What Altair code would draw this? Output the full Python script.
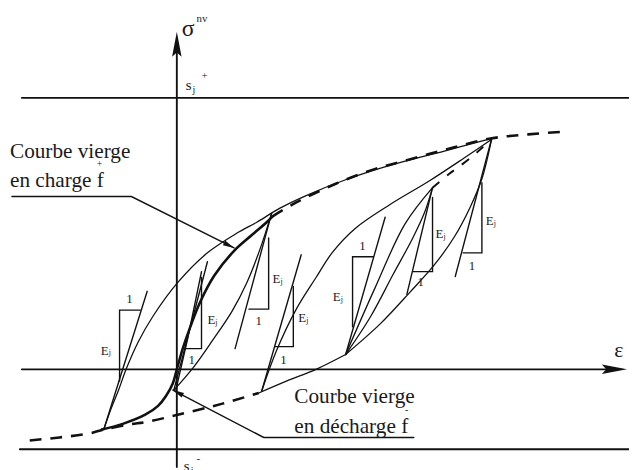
import math
import altair as alt
import pandas as pd

# ---- schematic geometry (reference pixel coordinates) ----
# frame lines
axis_v_x = [179, 179]; axis_v_y = [40, 470]
line_top_x = [22, 637]; line_top_y = [96, 96]
axis_e_x = [22, 622]; axis_e_y = [371, 371]
line_bot_x = [20, 637]; line_bot_y = [452, 452]

# thin curves
outer_x = [105, 112, 120, 128, 140, 155, 180, 210, 240, 260, 283, 310, 350, 400, 450, 498]
outer_y = [432, 412, 392, 370, 343, 317, 283, 253, 233, 222, 208, 195, 179, 163, 150, 137]
q2peak_x = [176, 195, 215, 235, 250, 263, 275]
q2peak_y = [392, 370, 342, 312, 283, 250, 213]
lowbr_x = [262, 290, 320, 350]
lowbr_y = [395, 383, 371, 356]
curvec_x = [265, 280, 300, 320, 337, 360, 395, 435, 470, 498]
curvec_y = [393, 352, 310, 278, 252, 228, 204, 180, 157, 138]
q4p_x = [350, 385, 415, 440, 460, 476, 488, 498]
q4p_y = [356, 325, 293, 265, 237, 207, 178, 137]
q4a_x = [350, 380, 410, 438]
q4a_y = [356, 288, 224, 187]
q4b_x = [350, 375, 398, 418, 430, 438]
q4b_y = [356, 318, 275, 238, 212, 187]

# straight slope lines
s1_x = [105, 149]; s1_y = [432, 292]
s2_x = [176, 210]; s2_y = [392, 262]
s2b_x = [178, 190, 204]; s2b_y = [392, 340, 272]
s3_x = [275, 238]; s3_y = [213, 350]
s4_x = [265, 305]; s4_y = [393, 255]
s5_x = [350, 390]; s5_y = [356, 217]
s6_x = [412, 438]; s6_y = [295, 187]
s7_x = [498, 461]; s7_y = [137, 277]

# triangles (two legs each)
tri_x = [[142, 121, 121], [187, 204, 204], [252, 272, 272], [278, 297, 297],
         [378, 357, 357], [418, 438, 438], [469, 488, 488]]
tri_y = [[311, 311, 383], [350, 350, 278], [310, 310, 238], [348, 348, 287],
         [257, 257, 328], [272, 272, 197], [253, 253, 182]]

# thick virgin loading curve
virg_x = [103, 125, 147, 160, 168, 175, 179, 185, 193, 203, 217, 237, 255, 270, 276]
virg_y = [432, 426, 417, 408, 398, 385, 371, 350, 327, 302, 276, 251, 235, 222, 216]
virgd_x = [276, 300, 340, 380, 420, 460, 498, 535, 575]
virgd_y = [216, 202, 183, 168, 157, 146, 137, 133, 130]
lowd_x = [30, 60, 90, 105, 130, 150, 180, 213, 235, 262]
lowd_y = [443, 440, 436, 432, 427, 424, 417, 409, 403, 395]
p3d_x = [438, 455, 475, 498]
p3d_y = [187, 173, 158, 138]

# leader lines
lead1_x = [12, 133, 237]; lead1_y = [196, 196, 248]
lead2_x = [419, 267, 175]; lead2_y = [440, 440, 392]

# texts
txt_left = [
    ("σ", 184, 33, 24), ("nv", 199, 19, 11),
    ("s", 188, 88, 15), ("j", 195, 91, 10), ("+", 204, 77, 11),
    ("s", 186, 474, 15), ("j", 193, 477, 10), ("-", 199, 465, 11),
    ("ε", 622, 359, 22),
    ("Courbe vierge", 10, 157, 21.5), ("en charge f", 10, 186, 21.5), ("+", 98, 166, 10),
    ("Courbe vierge", 298, 405, 21.5), ("en décharge f", 298, 435, 21.5), ("-", 410, 415, 10),
]
ej_x = [102, 210, 276, 302, 337, 441, 492]
ej_y = [356, 325, 284, 323, 302, 238, 225]
one_x = [131, 194, 262, 287, 367, 426, 478]
one_y = [304, 366, 326, 366, 250, 287, 270]

FONT = "Liberation Serif, Times New Roman, DejaVu Serif, serif"

# ---- build tables ----
def paths(groups):
    rows = []
    for gid, (xs, ys) in enumerate(groups):
        for i, (a, b) in enumerate(zip(xs, ys)):
            rows.append({"id": gid, "o": i, "x": a, "y": b})
    return pd.DataFrame(rows)

X = alt.Scale(domain=[8, 637])
Y = alt.Scale(domain=[8, 470], reverse=True)

def line_layer(df, width, interp="linear", dash=None, color="#111"):
    kw = dict(strokeWidth=width, color=color, interpolate=interp, strokeCap="round")
    if dash:
        kw["strokeDash"] = dash
        kw["strokeCap"] = "butt"
    return alt.Chart(df).mark_line(**kw).encode(
        x=alt.X("x:Q", scale=X, axis=None),
        y=alt.Y("y:Q", scale=Y, axis=None),
        detail="id:N",
        order="o:Q",
    )

frame = paths([(axis_v_x, axis_v_y), (line_top_x, line_top_y), (axis_e_x, axis_e_y),
               (line_bot_x, line_bot_y)])
thin_curves = paths([(outer_x, outer_y), (q2peak_x, q2peak_y), (lowbr_x, lowbr_y),
                     (curvec_x, curvec_y), (q4p_x, q4p_y), (q4a_x, q4a_y), (q4b_x, q4b_y)])
straight = paths([(s1_x, s1_y), (s2_x, s2_y), (s2b_x, s2b_y), (s3_x, s3_y), (s4_x, s4_y),
                  (s5_x, s5_y), (s6_x, s6_y), (s7_x, s7_y)]
                 + list(zip(tri_x, tri_y)) + [(lead1_x, lead1_y), (lead2_x, lead2_y)])
thick = paths([(virg_x, virg_y)])
thickd = paths([(virgd_x, virgd_y), (lowd_x, lowd_y)])
p3d = paths([(p3d_x, p3d_y)])

# arrow heads
ARROW = "M0,-1L0.32,0.7L0,0.4L-0.32,0.7Z"
TRI = "M0,-1L0.42,0.8L-0.42,0.8Z"
def head(tip, frm, size):
    dx, dy = tip[0] - frm[0], tip[1] - frm[1]
    n = math.hypot(dx, dy)
    ux, uy = dx / n, dy / n
    r = math.sqrt(size) / 2
    ang = math.degrees(math.atan2(ux, -uy)) % 360
    return {"x": tip[0] - ux * r, "y": tip[1] - uy * r, "a": ang, "s": size}

heads_big = pd.DataFrame([
    head((179, 29), (179, 100), 900),
    head((635, 371), (500, 371), 900),
])
heads_small = pd.DataFrame([
    head((lead1_x[-1], lead1_y[-1]), (lead1_x[-2], lead1_y[-2]), 160),
    head((lead2_x[-1], lead2_y[-1]), (lead2_x[-2], lead2_y[-2]), 160),
])

def head_layer(df, shape):
    return alt.Chart(df).mark_point(shape=shape, filled=True, color="#111", opacity=1,
                                    strokeWidth=0).encode(
        x=alt.X("x:Q", scale=X, axis=None),
        y=alt.Y("y:Q", scale=Y, axis=None),
        angle=alt.Angle("a:Q", scale=None),
        size=alt.Size("s:Q", scale=None, legend=None),
    )

texts = pd.DataFrame([{"t": t, "x": x, "y": y, "fs": fs} for t, x, y, fs in txt_left])
ej = pd.DataFrame([{"t": "E", "x": x, "y": y, "fs": 13} for x, y in zip(ej_x, ej_y)]
                  + [{"t": "j", "x": x + 8, "y": y + 1, "fs": 8} for x, y in zip(ej_x, ej_y)])
ones = pd.DataFrame([{"t": "1", "x": x, "y": y, "fs": 13} for x, y in zip(one_x, one_y)])

def text_layer(df, align):
    return alt.Chart(df).mark_text(align=align, baseline="alphabetic", font=FONT,
                                   color="#1a1a1a").encode(
        x=alt.X("x:Q", scale=X, axis=None),
        y=alt.Y("y:Q", scale=Y, axis=None),
        text="t:N",
        size=alt.Size("fs:Q", scale=None, legend=None),
    )

chart = alt.layer(
    line_layer(frame, 1.9),
    line_layer(thin_curves, 1.3, interp="catmull-rom"),
    line_layer(straight, 1.4),
    line_layer(thick, 2.6, interp="catmull-rom"),
    line_layer(thickd, 2.6, interp="catmull-rom", dash=[12, 9]),
    line_layer(p3d, 2.0, interp="catmull-rom", dash=[9, 10]),
    head_layer(heads_big, ARROW),
    head_layer(heads_small, TRI),
    text_layer(texts, "left"),
    text_layer(ej, "left"),
    text_layer(ones, "center"),
).properties(
    width=629, height=462, padding=0, autosize=alt.AutoSizeParams(type="none"),
    background="white",
).configure_view(stroke=None)

chart.save("out.html", embed_options={"renderer": "svg", "actions": False})
